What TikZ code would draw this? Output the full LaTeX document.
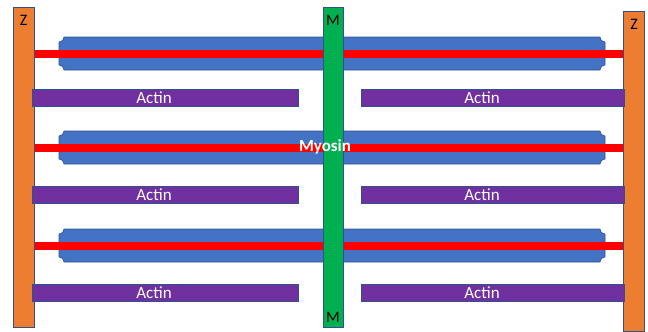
\documentclass[tikz,border=0pt]{standalone}
\usepackage{fontspec}
\setmainfont{Carlito}
\usetikzlibrary{positioning}
\definecolor{zorange}{HTML}{ED7D31}
\definecolor{mgreen}{HTML}{00B050}
\definecolor{mblue}{HTML}{4472C4}
\definecolor{apurple}{HTML}{7030A0}
\definecolor{edge}{HTML}{2F528F}
\tikzset{zdisc/.style = {draw=edge,fill=zorange,line width=0.8pt,minimum width=21pt,minimum height=320pt,inner sep=0pt}}
\tikzset{mline/.style = {draw=edge,fill=mgreen,line width=0.8pt,minimum width=20pt,minimum height=320pt,inner sep=0pt}}
\tikzset{actin/.style = {draw=edge,fill=apurple,line width=0.8pt,minimum height=17pt,inner sep=0pt}}
\tikzset{thickfil/.style = {draw=edge,fill=mblue,line width=0.6pt}}
\tikzset{redfil/.style = {fill=red}}
\tikzset{lbl/.style = {inner sep=0pt,font=\fontsize{16}{18}\selectfont}}
\tikzset{atext/.style = {text=white,inner sep=0pt,font=\fontsize{17}{19}\selectfont}}
\newcommand\myosinbar[1]{%
  \filldraw[thickfil] (64,#1) -- (600,#1) .. controls (600,#1+2.8) and (602.2,#1+5) .. (605,#1+5)
    -- (605,#1+28) .. controls (602.2,#1+28) and (600,#1+30.2) .. (600,#1+33)
    -- (64,#1+33) .. controls (64,#1+30.2) and (61.8,#1+28) .. (59,#1+28)
    -- (59,#1+5) .. controls (61.8,#1+5) and (64,#1+2.8) .. (64,#1) -- cycle;}

\begin{document}
\begin{tikzpicture}[x=1pt,y=-1pt]
    \useasboundingbox (0,0) rectangle (648,332);

    % thick filaments
    \foreach \t in {37,131,229} {\myosinbar{\t}}

    % red filaments between the Z discs
    \foreach \y in {53.5,148,245.5} {\fill[redfil] (34,\y-4) rectangle (624,\y+4);}

    % Z discs
    \node[zdisc] (zl) at (23.5,167) {};
    \node[zdisc] (zr) at (634,171.5) {};
    \node[lbl,below=8pt of zl.north] {Z};
    \node[lbl,below=8pt of zr.north] {Z};

    % actin
    \foreach \y/\i in {97.5/1,194.5/2,292.5/3} {
        \node[actin,minimum width=266pt,label={[atext,xshift=-11pt]center:Actin}] (al\i) at (165,\y) {};
        \node[actin,minimum width=263pt,label={[atext,xshift=-10.5pt]center:Actin}] (ar\i) at (492.5,\y) {};
    }

    % M line
    \node[mline] (m) at (333,167) {};
    \node[lbl,below=8pt of m.north] {M};
    \node[lbl,above=5pt of m.south] {M};

    \node[atext,font=\fontsize{17}{19}\selectfont\bfseries] (myo) at (325,147) {Myosin};
\end{tikzpicture}
\end{document}
